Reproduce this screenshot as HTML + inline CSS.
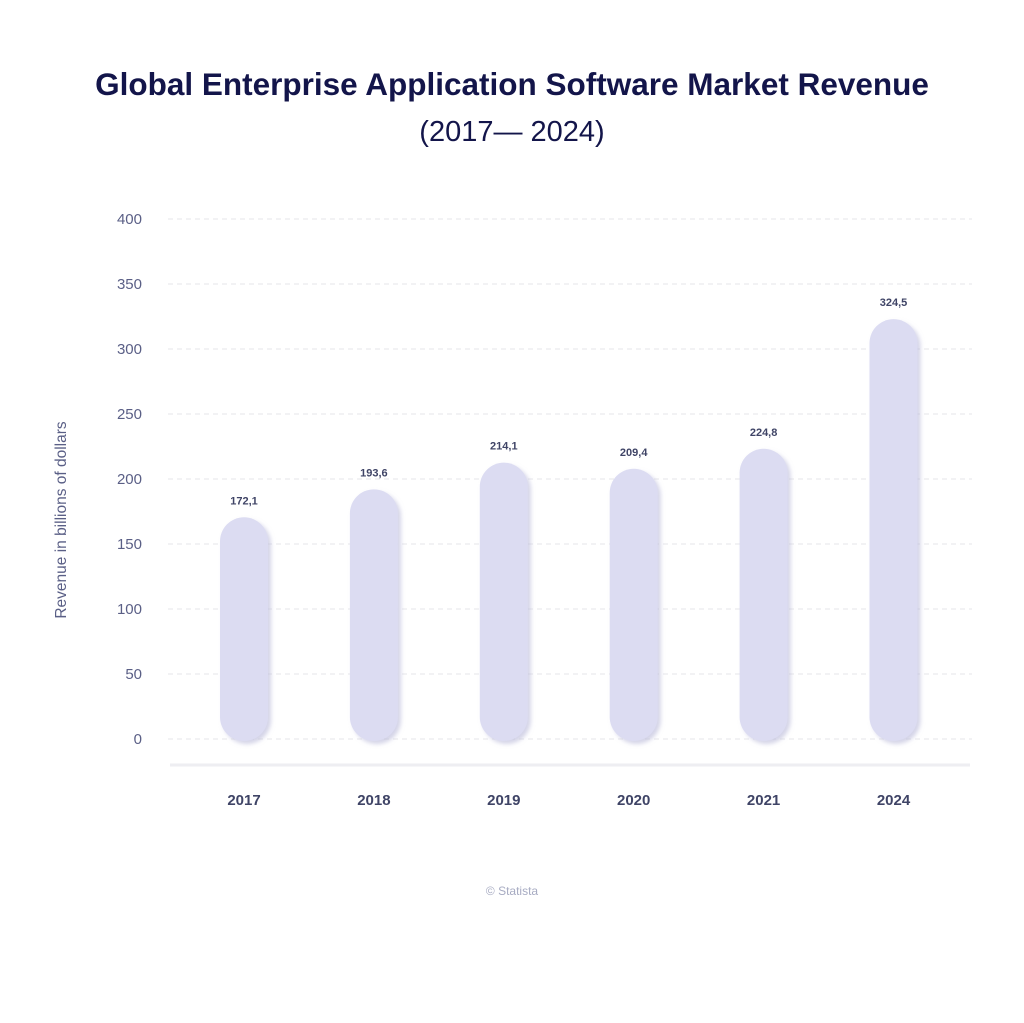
<!DOCTYPE html>
<html><head><meta charset="utf-8"><style>
body{margin:0;background:#fff;width:1024px;height:1018px;overflow:hidden;font-family:"Liberation Sans",sans-serif}
</style></head><body>
<svg width="1024" height="1018" viewBox="0 0 1024 1018">
<defs><filter id="sh" x="-30%" y="-10%" width="160%" height="120%"><feDropShadow dx="3" dy="3" stdDeviation="2" flood-color="#b8b8d8" flood-opacity="0.6"/></filter></defs>
<text x="512" y="95" text-anchor="middle" font-size="31.5" font-weight="bold" fill="#13154a">Global Enterprise Application Software Market Revenue</text>
<text x="512" y="141" text-anchor="middle" font-size="29" fill="#13154a">(2017— 2024)</text>
<text transform="translate(66,520) rotate(-90)" text-anchor="middle" font-size="15.5" fill="#5a5f86">Revenue in billions of dollars</text>
<g id="grid"></g><g id="bars"></g>
<line x1="170" y1="765" x2="970" y2="765" stroke="#eeeef2" stroke-width="3"/>
<text x="512" y="895" text-anchor="middle" font-size="12" fill="#a7abc2">© Statista</text>
</svg>
<script>
const categories=["2017","2018","2019","2020","2021","2024"];
const values=[172.1,193.6,214.1,209.4,224.8,324.5];
const labels=["172,1","193,6","214,1","209,4","224,8","324,5"];
const ticks=[0,50,100,150,200,250,300,350,400];
const NS="http://www.w3.org/2000/svg";
function y(v){return 739-v*1.3;}
function x(i){return 244+i*129.9;}
function mk(t,a){const e=document.createElementNS(NS,t);for(const k in a)e.setAttribute(k,a[k]);return e;}
const g=document.getElementById('grid');
ticks.forEach(t=>{
  const l=mk('line',{x1:168,x2:972,y1:y(t),y2:y(t),stroke:'#e6e6ea','stroke-dasharray':'5,4'});
  
  
  g.appendChild(l);
  const tx=mk('text',{x:142,y:y(t)+5,'text-anchor':'end','font-size':15,fill:'#5a5f86'});
  tx.textContent=t;
  
  
  g.appendChild(tx);
});
const b=document.getElementById('bars');
values.forEach((v,i)=>{
  const top=y(v)+2,bot=741;
  const r=mk('rect',{x:x(i)-24,y:top,width:48,height:bot-top,rx:24,ry:24,fill:'#dcdcf2',filter:'url(#sh)'});
  
  
  b.appendChild(r);
  const vl=mk('text',{x:x(i),y:top-13,'text-anchor':'middle','font-size':11,'font-weight':'bold',fill:'#3f4466'});
  vl.textContent=labels[i];
  
  
  b.appendChild(vl);
  const cl=mk('text',{x:x(i),y:805,'text-anchor':'middle','font-size':15,'font-weight':'bold',fill:'#3f4466'});
  cl.textContent=categories[i];
  
  
  b.appendChild(cl);
});
</script>
</body></html>
